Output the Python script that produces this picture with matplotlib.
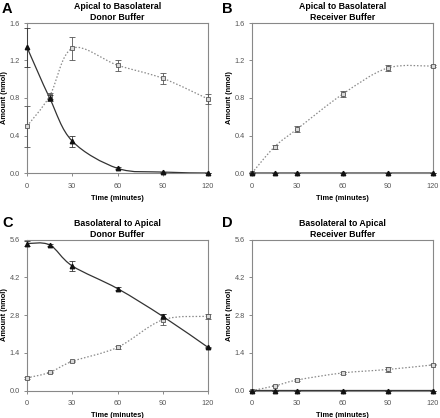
import numpy as np
import matplotlib
matplotlib.use('Agg')
import matplotlib.pyplot as plt
from matplotlib.path import Path
from matplotlib.patches import PathPatch

plt.rcParams['font.family'] = ['Liberation Sans', 'DejaVu Sans']

time = [0, 15, 30, 60, 90, 120]

# panel A: apical to basolateral, donor
a_tri = [1.34, 0.80, 0.34, 0.05, 0.01, 0.0]
a_tri_err = [0.21, 0.03, 0.06, 0.01, 0.005, 0.0]
a_sq = [0.50, 0.82, 1.33, 1.15, 1.01, 0.79]
a_sq_err = [0.22, 0.03, 0.12, 0.06, 0.06, 0.05]

# panel B: apical to basolateral, receiver
b_tri = [0.0, 0.0, 0.0, 0.0, 0.0, 0.0]
b_tri_err = [0.0, 0.0, 0.0, 0.0, 0.0, 0.0]
b_sq = [0.0, 0.28, 0.47, 0.84, 1.12, 1.14]
b_sq_err = [0.01, 0.02, 0.03, 0.03, 0.03, 0.01]

# panel C: basolateral to apical, donor
c_tri = [5.45, 5.40, 4.62, 3.78, 2.75, 1.60]
c_tri_err = [0.08, 0.05, 0.18, 0.04, 0.10, 0.03]
c_sq = [0.47, 0.67, 1.08, 1.60, 2.62, 2.75]
c_sq_err = [0.03, 0.03, 0.03, 0.05, 0.20, 0.10]

# panel D: basolateral to apical, receiver
d_tri = [0.0, 0.0, 0.0, 0.0, 0.0, 0.0]
d_tri_err = [0.0, 0.0, 0.0, 0.0, 0.0, 0.0]
d_sq = [0.0, 0.17, 0.39, 0.65, 0.78, 0.95]
d_sq_err = [0.01, 0.02, 0.03, 0.03, 0.10, 0.02]


def smooth_path(x, y):
    # excel style smoothed line as cubic bezier segments
    pts = np.column_stack([np.asarray(x, float), np.asarray(y, float)])
    n = len(pts)
    verts = [pts[0]]
    codes = [Path.MOVETO]
    for i in range(n - 1):
        p0 = pts[i - 1] if i > 0 else pts[i]
        p1 = pts[i]
        p2 = pts[i + 1]
        p3 = pts[i + 2] if i + 2 < n else pts[i + 1]
        verts += [p1 + (p2 - p0) / 6.0, p2 - (p3 - p1) / 6.0, p2]
        codes += [Path.CURVE4] * 3
    return Path(verts, codes)


def panel(ax, title, ymax, step, tri, tri_err, sq, sq_err):
    ax.add_patch(PathPatch(smooth_path(time, sq), fill=False,
                           edgecolor='#8a8a8a', lw=0.9, ls=(0, (1.2, 1.5))))
    ax.add_patch(PathPatch(smooth_path(time, tri), fill=False,
                           edgecolor='#333333', lw=0.9))
    ax.errorbar(time, sq, yerr=sq_err, fmt='s', ms=3.2, mfc='#d8d8d8',
                mec='#555555', mew=0.6, ecolor='#555555', elinewidth=0.6,
                capsize=2, capthick=0.6, zorder=4, clip_on=False)
    ax.errorbar(time, tri, yerr=tri_err, fmt='^', ms=3.2, color='#111111',
                ecolor='#333333', elinewidth=0.6, capsize=2, capthick=0.6,
                zorder=5, clip_on=False)
    ax.set_xlim(0, 120)
    ax.set_ylim(0, ymax)
    ax.set_xticks([0, 30, 60, 90, 120])
    yt = np.arange(0, ymax + step / 2, step)
    ax.set_yticks(yt)
    ax.set_yticklabels(['%.1f' % v for v in yt])
    ax.tick_params(direction='out', length=2.5, width=0.6, color='#777777',
                   labelsize=5.3, labelcolor='#555555', pad=2.5)
    ax.tick_params(axis='x', pad=4.5)
    for s in ax.spines.values():
        s.set_color('#888888')
        s.set_linewidth(0.8)
    ax.set_xlabel('Time (minutes)', fontsize=5.3, fontweight='bold')
    ax.xaxis.set_label_coords(0.5, -0.145)
    ax.set_ylabel('Amount (nmol)', fontsize=5.3, fontweight='bold')
    ax.yaxis.set_label_coords(-0.105, 0.5)
    ax.set_title(title, fontsize=6.3, fontweight='bold', pad=2,
                 linespacing=1.25)


fig = plt.figure(figsize=(4.4, 4.18), dpi=100)
W, H = 440.0, 418.0
axA = fig.add_axes([27 / W, 1 - 173 / H, 181 / W, 150 / H])
axB = fig.add_axes([252 / W, 1 - 173 / H, 181 / W, 150 / H])
axC = fig.add_axes([27 / W, 1 - 390.5 / H, 181 / W, 151 / H])
axD = fig.add_axes([252 / W, 1 - 390.5 / H, 181 / W, 151 / H])

panel(axA, 'Apical to Basolateral\nDonor Buffer', 1.6, 0.4,
      a_tri, a_tri_err, a_sq, a_sq_err)
panel(axB, 'Apical to Basolateral\nReceiver Buffer', 1.6, 0.4,
      b_tri, b_tri_err, b_sq, b_sq_err)
panel(axC, 'Basolateral to Apical\nDonor Buffer', 5.6, 1.4,
      c_tri, c_tri_err, c_sq, c_sq_err)
panel(axD, 'Basolateral to Apical\nReceiver Buffer', 5.6, 1.4,
      d_tri, d_tri_err, d_sq, d_sq_err)

for letter, x, y in [('A', 2, 13), ('B', 222, 13), ('C', 2, 227), ('D', 222, 227)]:
    fig.text(x / W, 1 - y / H, letter, fontsize=10.5, fontweight='bold',
             ha='left', va='baseline')

fig.savefig('out.png', dpi=100)
